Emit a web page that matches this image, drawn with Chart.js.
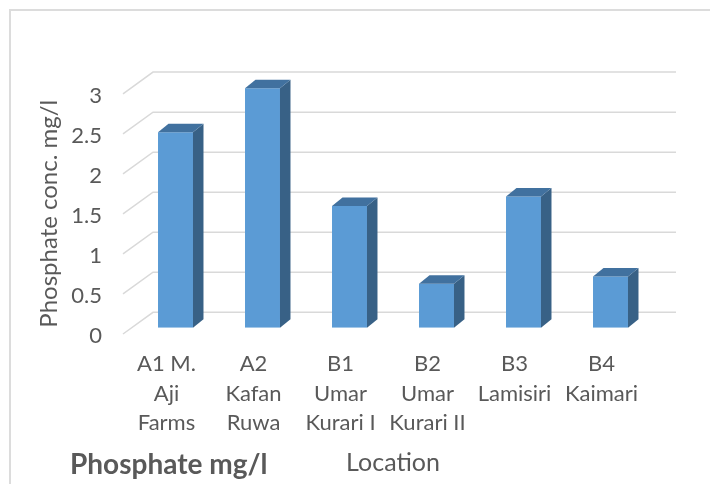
<!DOCTYPE html>
<html>
<head>
<meta charset="utf-8">
<title>Phosphate mg/l</title>
<script src="https://cdn.jsdelivr.net/npm/chart.js@4.4.1/dist/chart.umd.min.js"></script>
<style>
  html, body { margin: 0; padding: 0; background: #fff; overflow: hidden; }
  #wrap { position: relative; width: 710px; height: 484px; }
  #frame { position: absolute; left: 9px; top: 9px; width: 900px; height: 700px; border: 2px solid #dcdcdc; }
  #chart { position: absolute; left: 0; top: 0; }
</style>
</head>
<body>
<div id="wrap">
  <div id="frame"></div>
  <canvas id="chart" width="710" height="484"></canvas>
</div>
<script>
// Data
const locations = [
  ['A1 M.', 'Aji', 'Farms'],
  ['A2', 'Kafan', 'Ruwa'],
  ['B1', 'Umar', 'Kurari I'],
  ['B2', 'Umar', 'Kurari II'],
  ['B3', 'Lamisiri'],
  ['B4', 'Kaimari']
];
const phosphate = [2.44, 2.99, 1.52, 0.55, 1.64, 0.64];
const yTicks = [0, 0.5, 1, 1.5, 2, 2.5, 3];

// Colours (Excel blue, with darker faces for the 3D look)
const frontColor = '#5b9bd5';
const topColor = '#41719f';
const sideColor = '#386186';
const gridColor = '#d9d9d9';
const textColor = '#595959';

// 3D offsets
const barDepth = { x: 10.5, y: -8.5 };   // bar side / top faces
const wallShift = { x: 21, y: -15.4 };   // front plane -> back wall
const floorShift = { x: -9, y: 6.3 };    // front plane -> front edge of floor

Chart.defaults.font.family = 'Lato';
Chart.defaults.color = textColor;

// Back wall gridlines plus the diagonal on the left side wall
const wallGrid = {
  id: 'wallGrid',
  beforeDatasetsDraw(chart) {
    const ctx = chart.ctx;
    const yScale = chart.scales.y;
    const { left, right } = chart.chartArea;
    ctx.save();
    ctx.strokeStyle = gridColor;
    ctx.lineWidth = 1.5;
    yScale.ticks.forEach(t => {
      const y = yScale.getPixelForValue(t.value);
      const bx = left + wallShift.x;
      const by = y + wallShift.y;
      ctx.beginPath();
      ctx.moveTo(right + wallShift.x + 1, by);
      ctx.lineTo(bx, by);
      ctx.lineTo(left + floorShift.x, y + floorShift.y);
      ctx.stroke();
    });
    ctx.restore();
  }
};

// Side and top faces of every bar
const bar3d = {
  id: 'bar3d',
  afterDatasetsDraw(chart) {
    const ctx = chart.ctx;
    const dx = barDepth.x, dy = barDepth.y;
    ctx.save();
    chart.getDatasetMeta(0).data.forEach(bar => {
      const { x, y, base, width } = bar.getProps(['x', 'y', 'base', 'width'], true);
      const l = x - width / 2;
      const r = x + width / 2;

      ctx.fillStyle = sideColor;
      ctx.beginPath();
      ctx.moveTo(r, y);
      ctx.lineTo(r + dx, y + dy);
      ctx.lineTo(r + dx, base + dy);
      ctx.lineTo(r, base);
      ctx.closePath();
      ctx.fill();

      ctx.fillStyle = topColor;
      ctx.beginPath();
      ctx.moveTo(l, y);
      ctx.lineTo(l + dx, y + dy);
      ctx.lineTo(r + dx, y + dy);
      ctx.lineTo(r, y);
      ctx.closePath();
      ctx.fill();
    });
    ctx.restore();
  }
};

new Chart(document.getElementById('chart'), {
  type: 'bar',
  data: {
    labels: locations,
    datasets: [{
      label: 'Phosphate mg/l',
      data: phosphate,
      backgroundColor: frontColor,
      borderWidth: 0,
      barPercentage: 0.402,
      categoryPercentage: 1
    }]
  },
  options: {
    responsive: false,
    animation: false,
    events: [],
    layout: { padding: { left: 70, top: 87.5, right: 56, bottom: 0 } },
    plugins: {
      legend: { display: false },
      tooltip: { enabled: false },
      title: {
        display: true,
        text: 'Phosphate mg/l',
        position: 'bottom',
        align: 'start',
        color: textColor,
        font: { size: 28, weight: 'bold', lineHeight: 1.2 },
        padding: { top: -35.4, bottom: 1.8 }
      }
    },
    scales: {
      x: {
        grid: { display: false, drawTicks: false },
        border: { display: false },
        ticks: {
          color: textColor,
          font: { size: 22, lineHeight: 29.3 / 22 },
          padding: 21.8,
          labelOffset: floorShift.x,
          maxRotation: 0,
          autoSkip: false
        },
        title: {
          display: true,
          text: 'Location',
          color: textColor,
          font: { size: 25, lineHeight: 1.2 },
          padding: { top: 0, bottom: 6.2 }
        },
        afterFit(scale) { scale.height = 484 - 327.7; }
      },
      y: {
        min: 0,
        max: 3,
        grid: { display: false, drawTicks: false },
        border: { display: false },
        afterBuildTicks(scale) { scale.ticks = yTicks.map(v => ({ value: v })); },
        ticks: {
          color: textColor,
          font: { size: 22 },
          padding: 30,
          labelOffset: 8,
          callback: v => String(v)
        },
        title: {
          display: true,
          text: 'Phosphate conc. mg/l',
          align: 'start',
          color: textColor,
          font: { size: 24, lineHeight: 1.2 },
          padding: { top: -35.5, bottom: 0 }
        },
        afterFit(scale) { scale.width = 62; }
      }
    }
  },
  plugins: [wallGrid, bar3d]
});
</script>
</body>
</html>
